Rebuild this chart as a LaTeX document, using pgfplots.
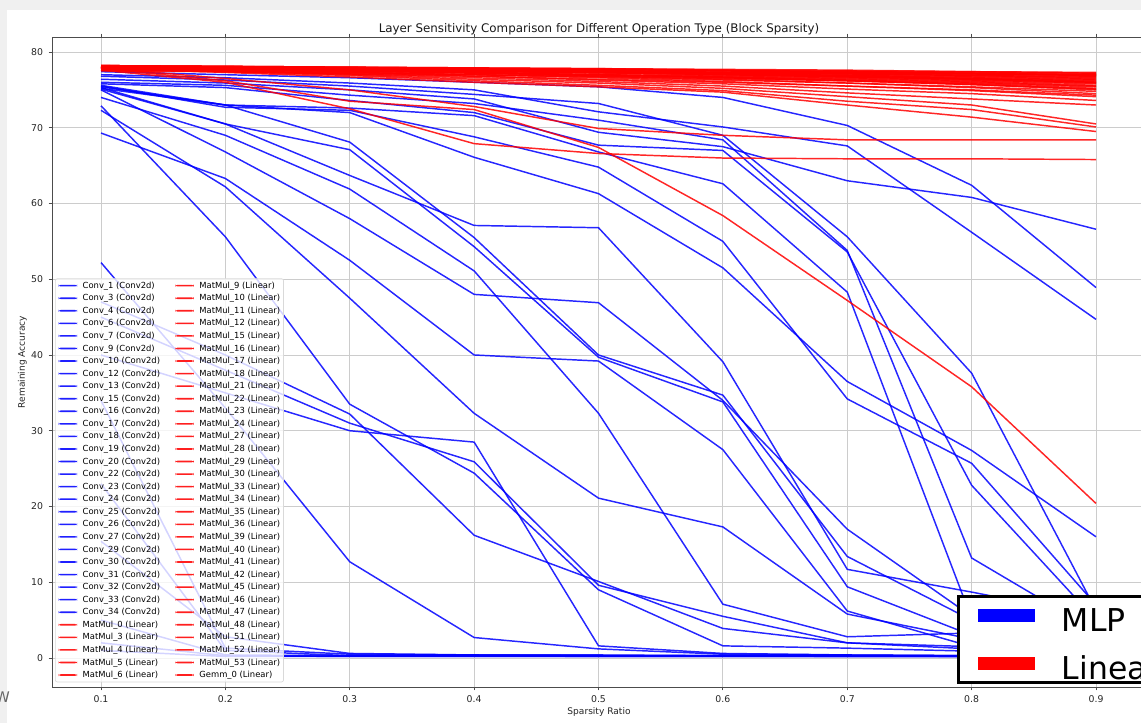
\documentclass[border=0pt]{standalone}
\usepackage{pgfplots}
\usepackage{pgfplotstable}
\pgfplotsset{compat=1.18}
\usepackage{fontspec}
\setmainfont{DejaVu Sans}

% one row per series (Conv2d layers), values at sparsity 0.1 ... 0.9
\pgfplotstableread{
name c1 c2 c3 c4 c5 c6 c7 c8 c9
x   0.1  0.2  0.3  0.4  0.5  0.6  0.7  0.8  0.9
b1  77.4 77.0 76.6 76.0 75.4 74.0 70.3 62.4 48.9
b2  77.0 76.6 75.9 75.0 72.1 70.1 67.6 56.2 44.7
b3  76.4 75.9 75.0 73.8 69.4 67.5 63.0 60.8 56.6
b4  76.8 76.3 75.5 74.4 73.2 69.0 55.6 37.6 6.3
b5  76.0 75.6 74.3 73.2 71.0 68.4 53.8 13.2 3.5
b6  75.8 75.3 73.6 72.0 67.7 67.0 53.6 22.8 5.0
b7  75.6 73.0 72.6 71.6 66.8 62.6 48.3 5.2 2.0
b8  75.5 72.7 72.3 68.8 64.8 55.0 34.2 25.7 7.0
b9  75.4 73.0 72.0 66.1 61.3 51.5 36.5 27.4 16.0
b10 75.3 70.5 63.7 57.1 56.8 39.1 11.7 8.7 5.5
b11 75.2 73.0 68.1 55.5 40.0 34.7 13.4 5.0 2.5
b12 74.0 69.0 61.9 51.1 32.3 7.1 2.8 3.3 1.8
b13 75.0 66.8 58.0 48.0 46.9 34.0 17.0 5.5 2.5
b14 75.1 70.5 67.1 54.3 39.7 33.8 9.4 3.0 1.5
b15 69.3 63.3 52.5 40.0 39.2 27.5 6.2 1.5 0.8
b16 72.3 62.2 47.5 32.3 21.1 17.3 5.8 2.5 1.2
b17 72.9 55.6 33.5 24.4 9.0 1.6 1.3 0.9 0.5
b18 52.2 33.0 12.7 2.7 1.2 0.5 0.4 0.3 0.3
b19 47.0 40.0 32.2 16.2 10.1 3.9 2.0 1.5 0.8
b20 45.0 38.0 31.0 25.9 9.6 5.5 2.0 1.2 0.6
b21 40.0 35.0 30.0 28.5 1.6 0.6 0.4 0.3 0.3
b22 34.0 1.3 0.5 0.4 0.3 0.3 0.3 0.2 0.2
b23 15.4 2.8 0.6 0.4 0.4 0.3 0.3 0.3 0.2
b24 23.0 1.0 0.3 0.3 0.3 0.3 0.2 0.2 0.2
b25 5.0 0.4 0.3 0.3 0.2 0.2 0.2 0.2 0.2
b26 2.0 0.3 0.2 0.2 0.2 0.2 0.2 0.2 0.2
b27 1.0 0.2 0.2 0.2 0.2 0.2 0.2 0.2 0.2
}\convrows
\pgfplotstabletranspose[colnames from=name]\convdata{\convrows}

% one row per series (Linear layers)
\pgfplotstableread{
name c1 c2 c3 c4 c5 c6 c7 c8 c9
x   0.1  0.2  0.3  0.4  0.5  0.6  0.7  0.8  0.9
r1  77.8 76.2 73.5 72.4 67.4 58.4 47.2 35.8 20.4
r2  77.6 76.0 72.5 67.9 66.6 66.0 65.9 65.9 65.8
r3  77.9 76.5 75.0 72.8 69.9 69.0 68.4 68.4 68.4
r4  78.0 77.5 77.0 76.4 75.9 75.2 74.1 73.0 70.5
r5  77.9 77.3 76.7 76.0 75.4 74.7 73.0 71.4 69.5
r6  78.0 77.4 76.9 76.2 75.6 74.9 73.5 72.4 70.1
r7  78.1 77.6 77.1 76.6 76.1 75.5 74.6 73.8 73.0
r8  78.0 77.7 77.3 76.8 76.3 75.8 75.1 74.5 73.6
r9  78.1 77.8 77.4 77.0 76.6 76.1 75.5 75.0 74.3
r10 78.2 78.1 78.0 77.9 77.8 77.7 77.6 77.4 77.3
r11 78.1 78.0 77.9 77.8 77.7 77.6 77.4 77.3 77.1
r12 78.2 78.1 78.0 77.8 77.7 77.5 77.3 77.1 76.9
r13 78.0 77.9 77.8 77.7 77.5 77.3 77.1 76.9 76.7
r14 78.1 78.0 77.9 77.7 77.5 77.3 77.0 76.8 76.5
r15 78.2 78.1 77.9 77.7 77.5 77.2 76.9 76.6 76.3
r16 77.9 77.8 77.6 77.5 77.3 77.1 76.8 76.5 76.1
r17 78.0 77.9 77.7 77.5 77.3 77.0 76.7 76.4 76.0
r18 78.1 77.9 77.7 77.5 77.2 76.9 76.6 76.2 75.8
r19 77.8 77.7 77.5 77.3 77.0 76.8 76.5 76.1 75.6
r20 78.0 77.8 77.6 77.3 77.0 76.7 76.3 75.9 75.4
r21 77.9 77.7 77.5 77.2 76.9 76.6 76.2 75.8 75.2
r22 78.1 77.9 77.6 77.3 77.0 76.6 76.2 75.7 75.0
r23 77.7 77.5 77.3 77.0 76.7 76.3 75.9 75.4 74.8
r24 78.0 77.8 77.5 77.2 76.8 76.4 75.9 75.3 74.5
r25 77.6 77.4 77.1 76.8 76.4 76.0 75.5 74.9 74.1
r26 78.2 78.1 78.0 77.9 77.8 77.6 77.5 77.4 77.2
r27 78.0 77.9 77.8 77.7 77.6 77.5 77.3 77.2 77.0
r28 77.9 77.8 77.7 77.6 77.5 77.3 77.2 77.0 76.8
r29 78.1 78.0 77.8 77.7 77.5 77.3 77.1 76.9 76.6
r30 77.8 77.7 77.6 77.4 77.3 77.1 76.9 76.7 76.4
r31 78.0 77.9 77.7 77.5 77.3 77.1 76.8 76.5 76.2
r32 78.1 77.9 77.7 77.5 77.3 77.0 76.7 76.3 75.9
r33 77.9 77.7 77.5 77.3 77.0 76.7 76.4 76.0 75.5
r34 77.7 77.6 77.6 77.5 77.4 77.3 77.2 77.1 77.0
r35 78.2 78.0 77.8 77.6 77.4 77.1 76.8 76.4 76.0
r36 77.5 77.4 77.2 77.0 76.8 76.5 76.2 75.7 75.1
r37 78.0 77.9 77.9 77.8 77.7 77.5 77.4 77.2 76.9
}\linrows
\pgfplotstabletranspose[colnames from=name]\lindata{\linrows}

\pgfplotsset{
  convline/.style={color=blue, line width=1.1pt, opacity=0.85, line join=round},
  linline/.style={color=red, line width=1.1pt, opacity=0.85, line join=round},
  convleg/.style={fill=blue!88!white},
  linleg/.style={fill=red!88!white},
}

\begin{document}
\begin{tikzpicture}[x=0.75pt,y=0.75pt]
\useasboundingbox (0,0) rectangle (1141,723);
\clip (0,0) rectangle (1141,723);
\fill[gray!12] (0,0) rectangle (1141,723);
\fill[white] (7,0) rectangle (1141,713);
\node[anchor=base west, inner sep=0pt, text=black!60, font=\fontsize{11}{13}\selectfont] at (-5,20) {W};

\begin{axis}[
  at={(39pt,27pt)}, anchor=south west, scale only axis,
  width=820.5pt, height=487.5pt,
  xmin=0.0606, xmax=0.9402, ymin=-3.83, ymax=81.98,
  xtick={0.1,0.2,0.3,0.4,0.5,0.6,0.7,0.8,0.9},
  xticklabels={0.1,0.2,0.3,0.4,0.5,0.6,0.7,0.8,0.9},
  ytick={0,10,20,30,40,50,60,70,80},
  yticklabels={0,10,20,30,40,50,60,70,80},
  tick align=outside, major tick length=2.6pt,
  tick style={black!70, line width=0.6pt},
  axis line style={black!70, line width=0.6pt},
  grid=major, grid style={gray!40, line width=0.6pt},
  xticklabel style={font=\fontsize{7}{8.4}\selectfont, text=black!85, anchor=base, inner sep=0pt, yshift=-9.2pt},
  yticklabel style={font=\fontsize{7}{8.4}\selectfont, text=black!85, anchor=east, inner sep=0pt, xshift=-3.9pt},
  title={Layer Sensitivity Comparison for Different Operation Type (Block Sparsity)},
  title style={font=\fontsize{8.9}{10.7}\selectfont, text=black!90, at={(0.5,1)}, anchor=base, yshift=-2.3pt},
  xlabel={Sparsity Ratio}, ylabel={Remaining Accuracy},
  xlabel style={font=\fontsize{6.8}{8}\selectfont, text=black!85, at={(axis description cs:0.5,0)}, anchor=base, yshift=-21pt},
  ylabel style={font=\fontsize{6.8}{8}\selectfont, text=black!85, at={(axis description cs:-0.0247,0.5)}, anchor=base},
  legend columns=2,
  legend cell align=left,
  legend image code/.code={\path[#1, draw=none, fill opacity=1] (0pt,-0.6pt) rectangle (13.8pt,0.6pt);},
  legend style={
    at={(axis description cs:0.00274,0.0072)}, anchor=south west,
    fill=white, fill opacity=0.8, draw opacity=1, text opacity=1,
    draw=gray!30, line width=0.5pt, rounded corners=1.5pt,
    font=\fontsize{6.3}{7.5}\selectfont,
    inner xsep=2.5pt, inner ysep=0.5pt, row sep=0pt,
    nodes={inner sep=0pt, text height=6.66pt, text depth=2.76pt},
    /tikz/every odd column/.append style={column sep=4.2pt},
    /tikz/every even column/.append style={column sep=11.5pt},
  },
]
\pgfplotsinvokeforeach{1,...,27}{
  \addplot[convline, forget plot] table[x=x, y=b#1] {\convdata};
}
\pgfplotsinvokeforeach{1,...,37}{
  \addplot[linline, forget plot] table[x=x, y=r#1] {\lindata};
}
\pgfplotsinvokeforeach{1,...,27}{\addlegendimage{convleg}\addlegendimage{linleg}}
\pgfplotsinvokeforeach{28,...,32}{\addlegendimage{linleg}\addlegendimage{linleg}}
\legend{
Conv\_1 (Conv2d), MatMul\_9 (Linear),
Conv\_3 (Conv2d), MatMul\_10 (Linear),
Conv\_4 (Conv2d), MatMul\_11 (Linear),
Conv\_6 (Conv2d), MatMul\_12 (Linear),
Conv\_7 (Conv2d), MatMul\_15 (Linear),
Conv\_9 (Conv2d), MatMul\_16 (Linear),
Conv\_10 (Conv2d), MatMul\_17 (Linear),
Conv\_12 (Conv2d), MatMul\_18 (Linear),
Conv\_13 (Conv2d), MatMul\_21 (Linear),
Conv\_15 (Conv2d), MatMul\_22 (Linear),
Conv\_16 (Conv2d), MatMul\_23 (Linear),
Conv\_17 (Conv2d), MatMul\_24 (Linear),
Conv\_18 (Conv2d), MatMul\_27 (Linear),
Conv\_19 (Conv2d), MatMul\_28 (Linear),
Conv\_20 (Conv2d), MatMul\_29 (Linear),
Conv\_22 (Conv2d), MatMul\_30 (Linear),
Conv\_23 (Conv2d), MatMul\_33 (Linear),
Conv\_24 (Conv2d), MatMul\_34 (Linear),
Conv\_25 (Conv2d), MatMul\_35 (Linear),
Conv\_26 (Conv2d), MatMul\_36 (Linear),
Conv\_27 (Conv2d), MatMul\_39 (Linear),
Conv\_29 (Conv2d), MatMul\_40 (Linear),
Conv\_30 (Conv2d), MatMul\_41 (Linear),
Conv\_31 (Conv2d), MatMul\_42 (Linear),
Conv\_32 (Conv2d), MatMul\_45 (Linear),
Conv\_33 (Conv2d), MatMul\_46 (Linear),
Conv\_34 (Conv2d), MatMul\_47 (Linear),
MatMul\_0 (Linear), MatMul\_48 (Linear),
MatMul\_3 (Linear), MatMul\_51 (Linear),
MatMul\_4 (Linear), MatMul\_52 (Linear),
MatMul\_5 (Linear), MatMul\_53 (Linear),
MatMul\_6 (Linear), Gemm\_0 (Linear)}
\end{axis}

\begin{axis}[
  at={(39pt,27pt)}, anchor=south west, scale only axis,
  width=820.5pt, height=487.5pt, hide axis,
  xmin=0, xmax=1, ymin=0, ymax=1,
  legend cell align=left,
  legend image code/.code={\fill[#1] (0pt,-4.1pt) rectangle (40.5pt,4.1pt);},
  legend style={
    at={(axis description cs:0.8272,0.1411)}, anchor=north west,
    draw=black, line width=2pt, fill=white, text opacity=1,
    font=\fontsize{23.6}{28}\selectfont, text=black,
    inner xsep=15pt, inner ysep=0.7pt, row sep=8.8pt,
    nodes={inner sep=0pt, text height=25.2pt, text depth=2pt},
    /tikz/every odd column/.append style={column sep=20.25pt},
  },
]
\addlegendimage{blue}
\addlegendimage{red}
\legend{MLP,Linear}
\end{axis}
\end{tikzpicture}
\end{document}
